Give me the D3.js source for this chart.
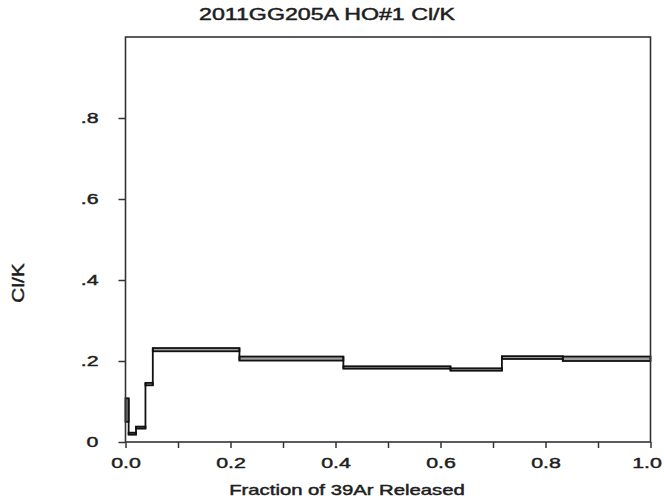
<!DOCTYPE html>
<html>
<head>
<meta charset="utf-8">
<script src="https://d3js.org/d3.v7.min.js"></script>
<style>
  body { margin: 0; background: #fff; }
  svg text { font-family: "Liberation Sans", Arial, sans-serif; fill: #1e1e1e; stroke: #1e1e1e; stroke-width: 0.45px; }
</style>
</head>
<body>
<svg id="chart" width="664" height="504"></svg>
<script>
// step heating spectrum: one box per step
const stepStart = [0, 0.006, 0.020, 0.038, 0.052, 0.217, 0.415, 0.619, 0.717, 0.833];
const stepEnd   = [0.006, 0.020, 0.038, 0.052, 0.217, 0.415, 0.619, 0.717, 0.833, 1.0];
const clkLow    = [0.050, 0.018, 0.033, 0.140, 0.224, 0.201, 0.181, 0.176, 0.205, 0.200];
const clkHigh   = [0.108, 0.023, 0.038, 0.146, 0.232, 0.211, 0.187, 0.182, 0.212, 0.211];

const xTicks = [0, 0.1, 0.2, 0.3, 0.4, 0.5, 0.6, 0.7, 0.8, 0.9, 1.0];
const xLabels = ["0.0", "", "0.2", "", "0.4", "", "0.6", "", "0.8", "", "1.0"];
const yTicks = [0, 0.2, 0.4, 0.6, 0.8];
const yLabels = ["0", ".2", ".4", ".6", ".8"];

const svg = d3.select("#chart");
const stretch = 1.38;   // the original picture is widened horizontally

const x = d3.scaleLinear().domain([0, 1]).range([125.5, 650.5]);
const y = d3.scaleLinear().domain([0, 1]).range([442, 37]);

// boxes
const steps = stepStart.map((s, i) => ({ x0: s, x1: stepEnd[i], lo: clkLow[i], hi: clkHigh[i] }));

svg.append("g").selectAll("rect")
    .data(steps)
    .enter().append("rect")
    .attr("x", d => x(d.x0))
    .attr("y", d => y(d.hi))
    .attr("width", d => x(d.x1) - x(d.x0))
    .attr("height", d => y(d.lo) - y(d.hi))
    .attr("fill", "#a0a0a0")
    .attr("stroke", "#111")
    .attr("stroke-width", 1.8);

// vertical connectors between neighbouring steps
for (let i = 0; i < steps.length - 1; i++) {
    const a = steps[i], b = steps[i + 1];
    svg.append("line")
        .attr("x1", x(a.x1)).attr("x2", x(a.x1))
        .attr("y1", y(Math.min(a.lo, b.lo)))
        .attr("y2", y(Math.max(a.hi, b.hi)))
        .attr("stroke", "#111")
        .attr("stroke-width", 1.8);
}

// axes
const xAxis = d3.axisBottom(x)
    .tickValues(xTicks)
    .tickSize(6)
    .tickPadding(9)
    .tickFormat((d, i) => xLabels[i]);

const gx = svg.append("g")
    .attr("transform", "translate(0,442)")
    .call(xAxis);
gx.select(".domain").remove();
gx.selectAll("line").attr("stroke", "#333").attr("stroke-width", 1.5);
gx.selectAll("text")
    .attr("font-size", 15.5)
    .attr("dx", d => d === 1 ? -4 / stretch : 0)
    .attr("transform", `scale(${stretch},1)`);

const yAxis = d3.axisLeft(y)
    .tickValues(yTicks)
    .tickSize(7)
    .tickPadding(21)
    .tickFormat((d, i) => yLabels[i]);

const gy = svg.append("g")
    .attr("transform", "translate(125.5,0)")
    .call(yAxis);
gy.select(".domain").remove();
gy.selectAll("line").attr("stroke", "#333").attr("stroke-width", 1.5);
gy.selectAll("text")
    .attr("font-size", 15.5)
    .attr("x", -27 / stretch)
    .attr("transform", `scale(${stretch},1)`);

// frame
svg.append("rect")
    .attr("x", x(0))
    .attr("y", y(1))
    .attr("width", x(1) - x(0))
    .attr("height", y(0) - y(1))
    .attr("fill", "none")
    .attr("stroke", "#333")
    .attr("stroke-width", 1.6);

// titles
svg.append("text")
    .attr("transform", `translate(327,20) scale(1.45,1)`)
    .attr("text-anchor", "middle")
    .attr("font-size", 16)
    .text("2011GG205A HO#1 Cl/K");

svg.append("text")
    .attr("transform", `translate(347,495) scale(1.4,1)`)
    .attr("text-anchor", "middle")
    .attr("font-size", 14.5)
    .text("Fraction of 39Ar Released");

svg.append("text")
    .attr("transform", `translate(24,283) rotate(-90) scale(1.3,1)`)
    .attr("text-anchor", "middle")
    .attr("font-size", 16)
    .text("Cl/K");
</script>
</body>
</html>
